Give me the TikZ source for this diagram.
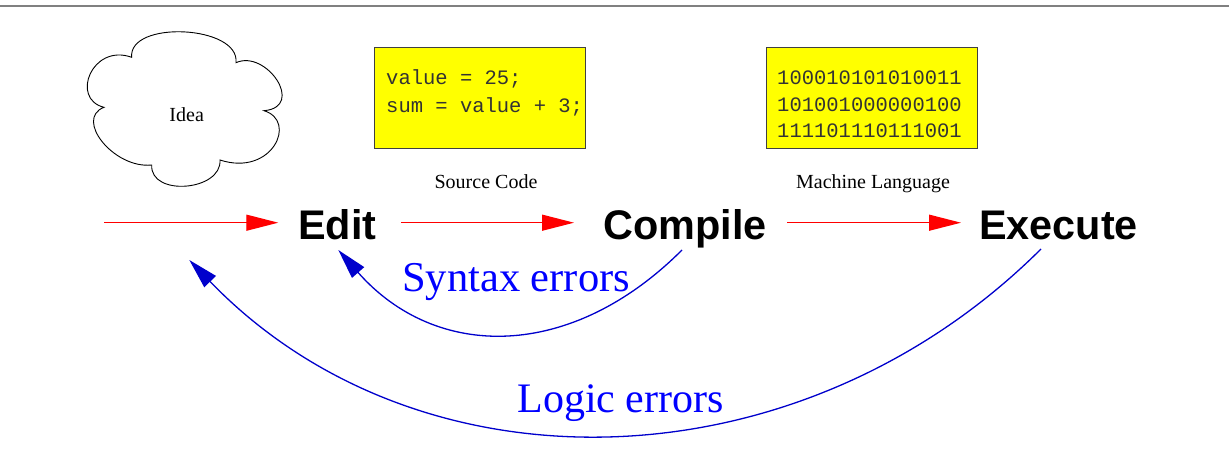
\documentclass[tikz,border=0pt]{standalone}
\usepackage{fontspec}
\setmainfont{Liberation Serif}
\newfontfamily\stepfont{Liberation Sans}
\newfontfamily\codefont{Liberation Mono}
\usetikzlibrary{arrows.meta}
\definecolor{boxyellow}{RGB}{255,255,0}
\definecolor{curveblue}{RGB}{0,0,204}
\definecolor{labelblue}{RGB}{0,0,255}
\definecolor{rulegray}{RGB}{128,128,128}
\definecolor{codegray}{RGB}{51,51,51}
\begin{document}
\begin{tikzpicture}[x=1pt,y=1pt,
  stepname/.style={inner sep=0,anchor=base west,font=\stepfont\bfseries\fontsize{41.4}{41.4}\selectfont},
  caption/.style={inner sep=0,anchor=base,font=\fontsize{20}{20}\selectfont},
  codeline/.style={inner sep=0,anchor=base west,text=codegray,font=\codefont\fontsize{20.5}{20.5}\selectfont},
  codebox/.style={draw=black!75,line width=1pt,fill=boxyellow,minimum width=211pt,minimum height=100pt,inner sep=0},
  errlabel/.style={inner sep=0,anchor=base west,text=labelblue},
  flowarrow/.style={draw=red,line width=1.3pt,-{Triangle[length=32pt,width=16pt]}},
  errarrow/.style={draw=curveblue,line width=1.3pt,-{Triangle[length=30pt,width=16pt]}},
  cloudline/.style={draw=black,line width=0.9pt}
]
\useasboundingbox (0,0) rectangle (1229,459);
\fill[white] (0,0) rectangle (1229,459);
% top rule
\draw[rulegray,line width=2pt] (0,453) -- (1229,453);

% cloud
\draw[cloudline] (131.7,401.7)
  .. controls (128,439) and (240,434) .. (236,396.3)
  .. controls (266,410) and (306,352) .. (264,348.3)
  .. controls (298,338) and (272,282) .. (220,299)
  .. controls (222,268) and (150,262) .. (151.7,294)
  .. controls (114,290) and (74,340) .. (104,351.7)
  .. controls (70,360) and (92,416) .. (131.7,401.7) -- cycle;
\node[caption] (idea) at (186.7,337.3) {Idea};

% boxes
\node[codebox] (src) at (479.5,361) {};
\node[codeline] (src1) at (386,374) {value = 25;};
\node[codeline] (src2) at (386,347) {sum = value + 3;};
\node[caption] (srccap) at (486,271) {Source Code};

\node[codebox] (mach) at (871.5,361) {};
\node[codeline] (m1) at (777,374.5) {100010101010011};
\node[codeline] (m2) at (777,348) {101001000000100};
\node[codeline] (m3) at (777,321.5) {111101110111001};
\node[caption] (machcap) at (873,271) {Machine Language};

% steps
\node[stepname] (edit) at (298,219.7) {Edit};
\node[stepname] (compile) at (603,219.7) {Compile};
\node[stepname] (execute) at (979,219.7) {Execute};

% flow arrows
\coordinate (s0) at (104,236.3);
\coordinate (e0) at (278.3,236.3);
\coordinate (s1) at (401,236.3);
\coordinate (e1) at (574,236.3);
\coordinate (s2) at (787.3,236.3);
\coordinate (e2) at (961,236.3);
\draw[flowarrow] (s0) -- (e0);
\draw[flowarrow] (s1) -- (e1);
\draw[flowarrow] (s2) -- (e2);

% error loops
\coordinate (synS) at (682,209);
\coordinate (synE) at (338.3,209);
\draw[errarrow] (synS) .. controls (571,98) and (436,98) .. (synE);
\node[errlabel,font=\fontsize{42.5}{42.5}\selectfont] (synlab) at (402,167.3) {Syntax errors};

\coordinate (logS) at (1041,210);
\coordinate (logE) at (189.3,199);
\draw[errarrow] (logS) .. controls (800,-30) and (420,-40) .. (logE);
\node[errlabel,font=\fontsize{42}{42}\selectfont] (loglab) at (517.3,46.3) {Logic errors};
\end{tikzpicture}
\end{document}
